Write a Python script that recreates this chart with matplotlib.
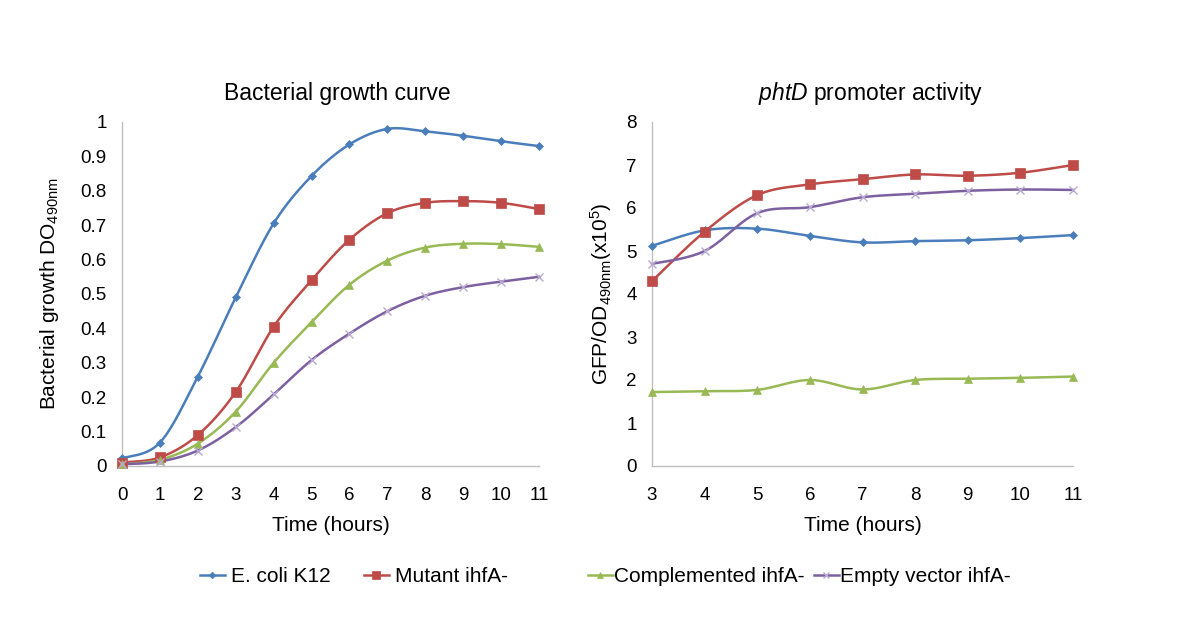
import numpy as np
import matplotlib
matplotlib.use("Agg")
import matplotlib.pyplot as plt
from matplotlib.lines import Line2D

plt.rcParams['font.family'] = ['Liberation Sans', 'DejaVu Sans']
plt.rcParams['mathtext.fontset'] = 'custom'
plt.rcParams['mathtext.rm'] = 'Liberation Sans'
plt.rcParams['mathtext.it'] = 'Liberation Sans:italic'

# ---- data ----
growth_hours = [0, 1, 2, 3, 4, 5, 6, 7, 8, 9, 10, 11]
growth_ecoli = [0.022, 0.068, 0.26, 0.49, 0.705, 0.843, 0.935, 0.98, 0.973, 0.96, 0.944, 0.93]
growth_mutant = [0.01, 0.025, 0.09, 0.215, 0.405, 0.54, 0.658, 0.735, 0.765, 0.77, 0.765, 0.747]
growth_compl = [0.005, 0.018, 0.065, 0.158, 0.30, 0.418, 0.527, 0.597, 0.635, 0.646, 0.645, 0.637]
growth_empty = [0.005, 0.013, 0.045, 0.113, 0.208, 0.308, 0.385, 0.45, 0.495, 0.52, 0.536, 0.55]

prom_hours = [3, 4, 5, 6, 7, 8, 9, 10, 11]
prom_ecoli = [5.12, 5.48, 5.52, 5.35, 5.2, 5.23, 5.25, 5.3, 5.37]
prom_mutant = [4.3, 5.45, 6.3, 6.55, 6.67, 6.78, 6.75, 6.82, 7.0]
prom_compl = [1.72, 1.74, 1.77, 2.0, 1.78, 2.0, 2.03, 2.05, 2.08]
prom_empty = [4.7, 5.0, 5.88, 6.02, 6.25, 6.33, 6.4, 6.43, 6.42]

series_names = ["E. coli K12", "Mutant ihfA-", "Complemented ihfA-", "Empty vector ihfA-"]
colors = ["#4A7EBB", "#BE4B48", "#98B954", "#7D60A0"]
marker_colors = ["#4A7EBB", "#BE4B48", "#98B954", "#B9A8D2"]
markers = ["D", "s", "^", "x"]
msizes = [4.2, 6.5, 6, 6]


def smooth(x, y, n=30):
    """Catmull-Rom style smoothing (like Excel smoothed lines) for drawing."""
    x = np.asarray(x, float)
    y = np.asarray(y, float)
    P = np.column_stack([x, y])
    P = np.vstack([P[0], P, P[-1]])
    out = []
    for i in range(1, len(P) - 2):
        p0, p1, p2, p3 = P[i - 1], P[i], P[i + 1], P[i + 2]
        c1 = p1 + (p2 - p0) / 6.0
        c2 = p2 - (p3 - p1) / 6.0
        t = np.linspace(0, 1, n)[:, None]
        seg = ((1 - t) ** 3) * p1 + 3 * ((1 - t) ** 2) * t * c1 + 3 * (1 - t) * t ** 2 * c2 + t ** 3 * p2
        out.append(seg if i == 1 else seg[1:])
    S = np.vstack(out)
    return S[:, 0], S[:, 1]


fig = plt.figure(figsize=(12, 6.28), dpi=100)
ax1 = fig.add_axes([122 / 1200, 1 - 466 / 628, 417 / 1200, 344 / 628])
ax2 = fig.add_axes([652 / 1200, 1 - 466 / 628, 421 / 1200, 344 / 628])

for ax, xs, ys in [
    (ax1, growth_hours, [growth_ecoli, growth_mutant, growth_compl, growth_empty]),
    (ax2, prom_hours, [prom_ecoli, prom_mutant, prom_compl, prom_empty]),
]:
    for y, c, mc, m, ms in zip(ys, colors, marker_colors, markers, msizes):
        sx, sy = smooth(xs, y)
        ax.plot(sx, sy, color=c, lw=1.8, zorder=2, clip_on=False)
        ax.plot(xs, y, linestyle="none", marker=m, color=mc, markersize=ms,
                markeredgewidth=1.0 if m == "x" else 0.5, zorder=3, clip_on=False)
    for s in ["top", "right"]:
        ax.spines[s].set_visible(False)
    for s in ["left", "bottom"]:
        ax.spines[s].set_color("#BFBFBF")
        ax.spines[s].set_linewidth(1.0)
    ax.tick_params(axis="y", length=0, labelsize=13.5, pad=11)
    ax.tick_params(axis="x", length=0, labelsize=13.5, pad=15)
    ax.set_xlabel("Time (hours)", fontsize=15, labelpad=9)

ax1.set_xlim(0, 11)
ax1.set_ylim(0, 1)
ax1.set_xticks(growth_hours)
ax1.set_yticks(np.arange(0, 1.01, 0.1))
ax1.set_yticklabels(["0"] + [f"{v:.1f}" for v in np.arange(0.1, 0.95, 0.1)] + ["1"])
ax1.set_ylabel(r"Bacterial growth DO$_{\mathregular{490nm}}$", fontsize=15, labelpad=14)
ax1.set_title("Bacterial growth curve", fontsize=16.5, pad=16, x=0.517)

ax2.set_xlim(3, 11)
ax2.set_ylim(0, 8)
ax2.set_xticks(prom_hours)
ax2.set_yticks(range(0, 9))
ax2.set_ylabel(r"GFP/OD$_{\mathregular{490nm}}$(x10$^{\mathregular{5}}$)", fontsize=15, labelpad=9)
ax2.set_title(r"$\mathit{phtD}$ promoter activity", fontsize=16.5, pad=16, x=0.52)

handles = [Line2D([], [], color=c, marker=m, markersize=ms * 0.8, lw=1.8,
                  markeredgecolor=mc, markerfacecolor=mc,
                  markeredgewidth=1.0 if m == "x" else 0.5)
           for c, mc, m, ms in zip(colors, marker_colors, markers, msizes)]

fig.legend(handles[:2], series_names[:2], ncol=2, loc="center",
           bbox_to_anchor=(354 / 1200, 1 - 577 / 628), frameon=False, fontsize=15,
           handlelength=1.2, handletextpad=0.3, columnspacing=1.6)
fig.legend(handles[2:], series_names[2:], ncol=2, loc="center",
           bbox_to_anchor=(799 / 1200, 1 - 577 / 628), frameon=False, fontsize=15,
           handlelength=1.2, handletextpad=0.05, columnspacing=0.45)

fig.savefig("out.png", dpi=100)
